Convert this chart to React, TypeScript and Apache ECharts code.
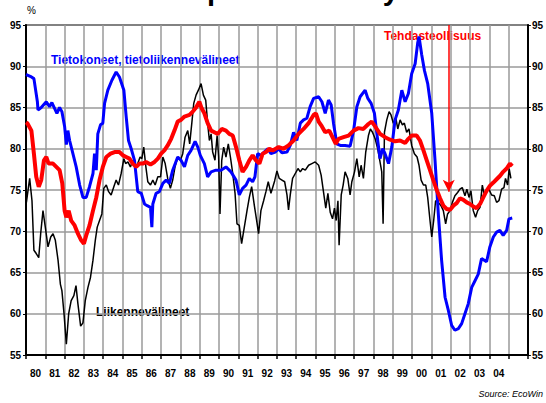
import React, { useEffect, useRef } from 'react';
import * as echarts from 'echarts';

const FONT = 'Liberation Sans, Arial, sans-serif';

const titleText = 'Kapasiteetin käyttöaste';
const yUnit = '%';
const sourceText = 'Source: EcoWin';
const seriesNames = ['Liikennevälineet', 'Tietokoneet, tietoliikennevälineet', 'Tehdasteollisuus'];

const yMin = 55;
const yMax = 95;
const yStep = 5;
const xMin = 1980;
const xMax = 2006;
const lastLabelYear = 2004;

const arrowYear = 2001.9;
const arrowFrom = 95;
const arrowTo = 74.8;

// Liikennevälineet (transport equipment), black
const transport: [number, number][] = [
  [1980.02, 73.5], [1980.19, 76.4], [1980.31, 73.7], [1980.41, 67.7], [1980.53, 67.3], [1980.66, 66.8],
  [1980.76, 69.7], [1980.88, 72.5], [1981.0, 70.5], [1981.14, 68.1], [1981.28, 69.3], [1981.4, 69.7],
  [1981.52, 68.9], [1981.66, 66.5], [1981.78, 63.6], [1981.86, 62.8], [1981.97, 60.0], [1982.09, 56.3],
  [1982.21, 60.0], [1982.34, 61.6], [1982.48, 62.2], [1982.59, 63.4], [1982.69, 61.2], [1982.83, 58.5],
  [1982.95, 58.9], [1983.07, 61.6], [1983.21, 63.2], [1983.34, 64.4], [1983.47, 66.5], [1983.59, 68.9],
  [1983.69, 70.5], [1983.81, 71.3], [1983.93, 72.1], [1984.03, 75.2], [1984.16, 75.6], [1984.28, 74.8],
  [1984.41, 74.4], [1984.55, 75.4], [1984.67, 76.2], [1984.79, 75.6], [1984.93, 77.0], [1985.07, 78.8],
  [1985.16, 78.2], [1985.28, 78.4], [1985.41, 77.8], [1985.53, 78.6], [1985.66, 77.8], [1985.79, 78.2],
  [1985.91, 79.0], [1986.0, 78.8], [1986.1, 80.2], [1986.21, 77.8], [1986.31, 76.0], [1986.45, 75.6],
  [1986.57, 76.2], [1986.69, 75.6], [1986.83, 76.6], [1986.97, 76.6], [1987.09, 79.0], [1987.21, 78.2],
  [1987.34, 76.4], [1987.48, 75.2], [1987.6, 76.2], [1987.72, 77.8], [1987.86, 79.0], [1988.0, 78.6],
  [1988.12, 79.4], [1988.24, 81.4], [1988.38, 82.2], [1988.48, 80.6], [1988.59, 83.1], [1988.69, 85.5],
  [1988.81, 86.5], [1988.93, 87.1], [1989.07, 87.9], [1989.19, 86.5], [1989.31, 85.9], [1989.41, 83.1],
  [1989.5, 81.0], [1989.59, 81.8], [1989.67, 79.6], [1989.79, 78.6], [1989.9, 81.6], [1989.98, 79.0],
  [1990.05, 72.1], [1990.14, 78.6], [1990.24, 80.2], [1990.36, 79.0], [1990.48, 80.6], [1990.59, 79.0],
  [1990.71, 77.0], [1990.83, 74.6], [1990.93, 70.9], [1991.05, 70.7], [1991.17, 68.5], [1991.31, 70.5],
  [1991.45, 72.5], [1991.57, 74.1], [1991.69, 75.4], [1991.83, 73.1], [1991.95, 71.3], [1992.05, 69.7],
  [1992.17, 72.5], [1992.31, 73.7], [1992.43, 74.8], [1992.55, 76.0], [1992.69, 74.6], [1992.88, 76.1],
  [1993.0, 77.3], [1993.12, 76.4], [1993.26, 76.2], [1993.4, 76.0], [1993.52, 74.4], [1993.6, 72.6],
  [1993.69, 74.4], [1993.81, 76.4], [1993.95, 77.0], [1994.09, 77.6], [1994.21, 77.2], [1994.33, 77.6],
  [1994.47, 77.4], [1994.64, 78.0], [1994.81, 78.2], [1994.98, 78.4], [1995.16, 78.0], [1995.29, 76.8],
  [1995.41, 74.8], [1995.53, 72.8], [1995.64, 74.6], [1995.76, 72.3], [1995.88, 71.5], [1995.98, 72.8],
  [1996.07, 71.3], [1996.16, 73.7], [1996.22, 68.3], [1996.33, 74.4], [1996.43, 75.6], [1996.53, 77.2],
  [1996.67, 76.4], [1996.79, 74.4], [1996.88, 76.0], [1997.02, 77.2], [1997.14, 78.8], [1997.26, 76.6],
  [1997.36, 78.0], [1997.48, 76.4], [1997.6, 79.6], [1997.74, 81.6], [1997.84, 82.4], [1997.95, 82.0],
  [1998.09, 81.2], [1998.22, 80.0], [1998.34, 78.4], [1998.43, 77.2], [1998.5, 70.9], [1998.57, 82.0],
  [1998.69, 83.5], [1998.81, 84.5], [1998.91, 84.1], [1999.03, 83.1], [1999.16, 83.7], [1999.26, 82.4],
  [1999.38, 83.5], [1999.5, 82.9], [1999.6, 83.1], [1999.72, 82.0], [1999.84, 82.4], [1999.98, 80.4],
  [2000.12, 79.4], [2000.26, 79.0], [2000.36, 78.0], [2000.47, 76.2], [2000.59, 75.6], [2000.71, 75.6],
  [2000.81, 74.1], [2000.93, 71.3], [2001.02, 69.3], [2001.12, 71.3], [2001.22, 73.7], [2001.36, 73.5],
  [2001.5, 73.1], [2001.62, 72.5], [2001.74, 70.9], [2001.84, 72.1], [2001.97, 72.5], [2002.09, 73.5],
  [2002.22, 74.3], [2002.36, 74.7], [2002.48, 75.1], [2002.6, 75.3], [2002.74, 74.3], [2002.84, 75.1],
  [2002.95, 74.1], [2003.05, 74.9], [2003.17, 72.5], [2003.29, 71.7], [2003.4, 72.5], [2003.52, 72.9],
  [2003.64, 75.6], [2003.74, 74.4], [2003.86, 74.9], [2003.98, 75.1], [2004.12, 74.4], [2004.26, 74.3],
  [2004.38, 73.5], [2004.5, 73.7], [2004.64, 75.1], [2004.76, 75.3], [2004.84, 76.4], [2004.95, 75.6],
  [2005.03, 77.6], [2005.12, 76.4],
];

// Tietokoneet, tietoliikennevälineet (computers, telecom equipment), blue
const computers: [number, number][] = [
  [1980.0, 89.0], [1980.1, 88.9], [1980.28, 88.7], [1980.41, 88.5], [1980.59, 85.7], [1980.62, 84.7],
  [1980.79, 85.0], [1981.05, 85.7], [1981.22, 85.1], [1981.34, 85.6], [1981.48, 84.9], [1981.6, 84.3],
  [1981.74, 85.0], [1981.86, 84.5], [1982.0, 82.7], [1982.09, 80.5], [1982.17, 82.2], [1982.26, 81.0],
  [1982.43, 79.4], [1982.6, 77.8], [1982.78, 75.6], [1982.95, 74.1], [1983.12, 74.1], [1983.29, 75.4],
  [1983.47, 77.0], [1983.55, 79.4], [1983.64, 77.4], [1983.72, 81.8], [1983.86, 82.9], [1983.98, 83.1],
  [1984.07, 85.5], [1984.24, 87.1], [1984.45, 88.3], [1984.67, 89.3], [1984.84, 88.7], [1985.07, 87.1],
  [1985.19, 83.9], [1985.31, 81.0], [1985.45, 80.0], [1985.62, 78.6], [1985.79, 74.8], [1985.97, 74.6],
  [1986.14, 73.3], [1986.28, 73.1], [1986.45, 72.9], [1986.52, 70.5], [1986.57, 73.3], [1986.74, 74.6],
  [1986.91, 74.8], [1987.09, 75.8], [1987.26, 76.2], [1987.43, 75.8], [1987.6, 77.4], [1987.86, 79.0],
  [1988.03, 78.6], [1988.21, 77.8], [1988.38, 79.2], [1988.55, 79.8], [1988.76, 80.9], [1988.9, 80.2],
  [1989.03, 79.2], [1989.24, 78.2], [1989.41, 76.6], [1989.59, 77.2], [1989.84, 77.4], [1990.1, 77.4],
  [1990.36, 77.8], [1990.62, 77.2], [1990.88, 76.2], [1991.05, 74.4], [1991.22, 75.2], [1991.4, 75.6],
  [1991.57, 76.4], [1991.74, 76.0], [1991.86, 76.6], [1992.0, 79.4], [1992.17, 79.2], [1992.34, 79.6],
  [1992.52, 80.0], [1992.69, 79.4], [1992.91, 79.6], [1993.09, 80.0], [1993.26, 79.5], [1993.52, 79.6],
  [1993.69, 80.4], [1993.86, 82.0], [1994.03, 81.0], [1994.21, 83.1], [1994.38, 83.5], [1994.55, 83.7],
  [1994.72, 85.1], [1994.9, 86.1], [1995.16, 86.3], [1995.33, 85.7], [1995.5, 84.3], [1995.67, 85.9],
  [1995.81, 85.3], [1995.93, 83.1], [1996.1, 80.6], [1996.28, 80.4], [1996.53, 80.4], [1996.79, 80.3],
  [1996.97, 82.2], [1997.14, 85.1], [1997.31, 86.3], [1997.57, 87.1], [1997.71, 86.1], [1997.88, 85.5],
  [1998.05, 84.3], [1998.22, 81.0], [1998.34, 78.8], [1998.48, 80.0], [1998.6, 79.4], [1998.78, 78.2],
  [1998.95, 80.2], [1999.12, 83.5], [1999.29, 84.7], [1999.47, 87.1], [1999.64, 85.7], [1999.81, 86.7],
  [1999.98, 89.1], [2000.16, 90.3], [2000.29, 92.8], [2000.36, 93.6], [2000.5, 91.4], [2000.64, 89.5],
  [2000.81, 87.9], [2001.02, 84.3], [2001.19, 78.6], [2001.36, 72.1], [2001.53, 66.5], [2001.71, 62.0],
  [2001.88, 60.4], [2002.05, 58.6], [2002.22, 58.0], [2002.4, 58.2], [2002.57, 58.8], [2002.74, 60.0],
  [2002.91, 61.2], [2003.09, 63.2], [2003.26, 64.0], [2003.43, 64.8], [2003.6, 66.7], [2003.86, 66.3],
  [2004.03, 68.1], [2004.21, 69.3], [2004.38, 69.9], [2004.55, 70.1], [2004.72, 69.5], [2004.9, 70.1],
  [2005.02, 71.5], [2005.19, 71.6],
];

// Tehdasteollisuus (manufacturing), red
const manufacturing: [number, number][] = [
  [1980.0, 83.2], [1980.07, 83.1], [1980.28, 82.2], [1980.41, 79.4], [1980.53, 76.6], [1980.66, 75.4],
  [1980.79, 76.2], [1980.93, 78.6], [1981.05, 79.0], [1981.17, 78.2], [1981.4, 78.2], [1981.57, 77.8],
  [1981.74, 77.4], [1981.88, 75.8], [1982.0, 72.5], [1982.09, 71.7], [1982.21, 72.5], [1982.34, 71.3],
  [1982.52, 70.7], [1982.69, 69.7], [1982.86, 68.9], [1983.0, 68.5], [1983.12, 69.5], [1983.29, 70.7],
  [1983.47, 72.5], [1983.64, 74.1], [1983.81, 76.2], [1983.98, 77.8], [1984.16, 79.0], [1984.38, 79.4],
  [1984.59, 79.6], [1984.84, 79.6], [1985.02, 79.2], [1985.19, 79.0], [1985.36, 78.8], [1985.53, 78.2],
  [1985.71, 77.8], [1985.88, 78.2], [1986.05, 78.2], [1986.22, 78.4], [1986.45, 78.1], [1986.66, 78.4],
  [1986.83, 78.8], [1987.0, 79.4], [1987.17, 79.8], [1987.34, 80.4], [1987.52, 81.2], [1987.69, 82.2],
  [1987.86, 83.3], [1988.03, 83.5], [1988.21, 83.9], [1988.47, 84.1], [1988.64, 84.5], [1988.81, 85.0],
  [1988.98, 85.7], [1989.1, 84.9], [1989.24, 84.3], [1989.41, 83.1], [1989.59, 82.2], [1989.76, 82.0],
  [1989.93, 81.8], [1990.14, 82.4], [1990.36, 82.2], [1990.53, 81.8], [1990.71, 81.6], [1990.88, 80.2],
  [1991.05, 78.6], [1991.22, 77.2], [1991.4, 77.8], [1991.57, 78.6], [1991.74, 79.2], [1991.91, 78.6],
  [1992.09, 78.2], [1992.26, 79.4], [1992.43, 79.6], [1992.6, 80.0], [1992.78, 79.8], [1993.09, 80.2],
  [1993.34, 80.0], [1993.6, 80.4], [1993.86, 81.0], [1994.12, 81.8], [1994.38, 82.4], [1994.64, 83.1],
  [1994.9, 84.1], [1995.02, 84.3], [1995.16, 83.3], [1995.33, 82.7], [1995.5, 82.0], [1995.71, 82.2],
  [1995.84, 81.6], [1996.05, 80.6], [1996.19, 81.2], [1996.45, 81.4], [1996.71, 81.6], [1996.97, 82.2],
  [1997.22, 82.5], [1997.48, 82.4], [1997.74, 83.0], [1997.91, 83.3], [1998.09, 82.7], [1998.34, 81.8],
  [1998.6, 81.4], [1998.86, 81.1], [1999.12, 80.9], [1999.38, 81.0], [1999.64, 80.7], [1999.81, 81.2],
  [1999.98, 81.6], [2000.24, 81.6], [2000.41, 81.0], [2000.59, 79.8], [2000.76, 78.6], [2000.93, 77.4],
  [2001.1, 76.2], [2001.28, 75.0], [2001.45, 74.0], [2001.62, 73.1], [2001.79, 72.7], [2001.97, 72.6],
  [2002.14, 73.1], [2002.31, 73.4], [2002.48, 74.0], [2002.66, 73.8], [2002.83, 73.5], [2003.0, 73.3],
  [2003.17, 73.0], [2003.34, 72.8], [2003.52, 73.3], [2003.69, 74.1], [2003.86, 74.9], [2004.03, 75.5],
  [2004.21, 75.9], [2004.38, 76.3], [2004.55, 76.7], [2004.72, 77.2], [2004.9, 77.6], [2005.07, 78.2],
  [2005.19, 77.9],
];

export default function App() {
  const ref = useRef<HTMLDivElement>(null);

  useEffect(() => {
    document.body.style.margin = '0';
    if (!ref.current) return;
    const chart = echarts.init(ref.current, null, { renderer: 'svg' });

    const axisText = { color: '#000', fontWeight: 'bold' as const, fontSize: 10, fontFamily: FONT };

    chart.setOption({
      animation: false,
      backgroundColor: '#fff',
      grid: {
        left: 26, right: 18, top: 25, bottom: 48,
        show: true, borderColor: '#000', borderWidth: 1.5, backgroundColor: 'transparent',
      },
      xAxis: {
        type: 'value', min: xMin, max: xMax, interval: 1,
        axisLine: { show: true, lineStyle: { color: '#000', width: 2 } },
        axisTick: { show: true, length: 4, lineStyle: { color: '#000', width: 1.5 } },
        splitLine: { show: true, lineStyle: { color: '#9a9a9a', width: 1.5 } },
        axisLabel: {
          ...axisText,
          margin: 13,
          padding: [0, 0, 0, 19],
          formatter: (v: number) => (v <= lastLabelYear ? String(v).slice(2) : ''),
        },
      },
      yAxis: [
        {
          type: 'value', min: yMin, max: yMax, interval: yStep, position: 'left',
          axisLine: { show: true, lineStyle: { color: '#000', width: 2 } },
          axisTick: { show: true, length: 3, lineStyle: { color: '#000', width: 1 } },
          splitLine: { show: true, lineStyle: { color: '#9a9a9a', width: 1.5 } },
          axisLabel: { ...axisText, margin: 5 },
        },
        {
          type: 'value', min: yMin, max: yMax, interval: yStep, position: 'right',
          axisLine: { show: true, lineStyle: { color: '#000', width: 2 } },
          axisTick: { show: true, length: 3, lineStyle: { color: '#000', width: 1 } },
          splitLine: { show: false },
          axisLabel: { ...axisText, margin: 4 },
        },
      ],
      series: [
        {
          name: seriesNames[0], type: 'line', data: transport, showSymbol: false,
          lineStyle: { color: '#000', width: 1.5 }, itemStyle: { color: '#000' }, z: 2,
        },
        {
          name: seriesNames[1], type: 'line', data: computers, showSymbol: false,
          lineStyle: { color: '#0000ff', width: 3 }, itemStyle: { color: '#0000ff' }, z: 3,
        },
        {
          name: seriesNames[2], type: 'line', data: manufacturing, showSymbol: false,
          lineStyle: { color: '#ff0000', width: 4 }, itemStyle: { color: '#ff0000' }, z: 4,
          markLine: {
            silent: true,
            symbol: ['none', 'arrow'],
            symbolSize: [9, 12],
            label: { show: false },
            lineStyle: { color: '#ff0000', width: 1.5, type: 'solid' },
            data: [[{ coord: [arrowYear, arrowFrom] }, { coord: [arrowYear, arrowTo] }]],
          },
        },
      ],
      graphic: [
        {
          type: 'text', x: 170, y: 4, z: 0,
          style: { text: titleText, font: `bold 29px ${FONT}`, fill: '#000', verticalAlign: 'bottom' },
        },
        {
          type: 'text', x: 27, y: 10, z: 0,
          style: { text: yUnit, font: `10px ${FONT}`, fill: '#000', verticalAlign: 'middle' },
        },
        {
          type: 'text', x: 51, y: 60, z: 0,
          style: { text: seriesNames[1], font: `bold 12px ${FONT}`, fill: '#0000ff', verticalAlign: 'middle' },
        },
        {
          type: 'text', x: 384, y: 36, z: 0,
          style: { text: seriesNames[2], font: `bold 12px ${FONT}`, fill: '#ff0000', verticalAlign: 'middle' },
        },
        {
          type: 'text', x: 96, y: 312, z: 0,
          style: { text: seriesNames[0], font: `bold 12px ${FONT}`, fill: '#000', verticalAlign: 'middle' },
        },
        {
          type: 'text', x: 543, y: 394, z: 0,
          style: { text: sourceText, font: `italic 9px ${FONT}`, fill: '#000', align: 'right', verticalAlign: 'middle' },
        },
      ],
    });

    return () => chart.dispose();
  }, []);

  return <div ref={ref} style={{ position: 'fixed', left: 0, top: 0, width: 546, height: 403 }} />;
}
